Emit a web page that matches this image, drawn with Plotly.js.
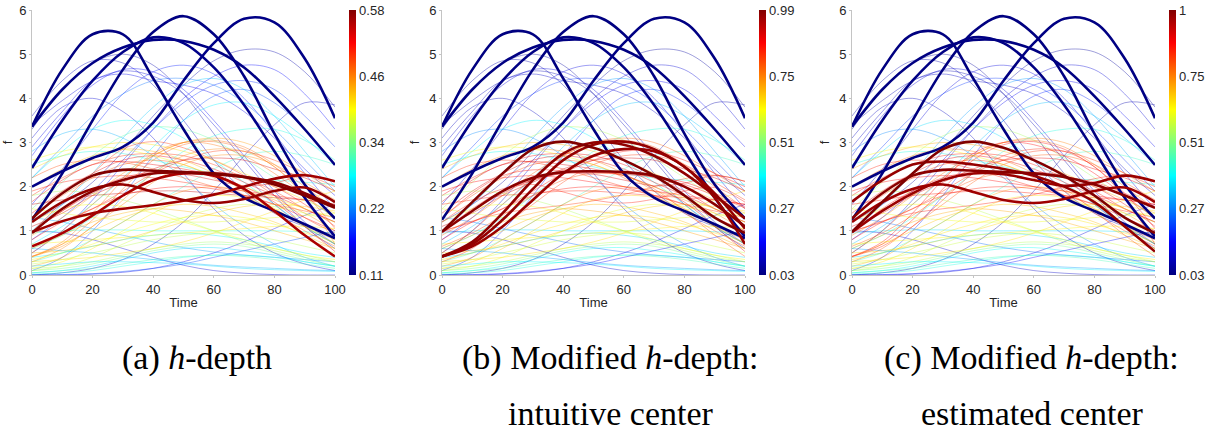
<!DOCTYPE html>
<html>
<head>
<meta charset="utf-8">
<script src="https://cdn.plot.ly/plotly-3.0.1.min.js"></script>
<style>html,body{margin:0;padding:0;background:#fff;}#chart{width:1209px;height:432px;}</style>
</head>
<body>
<div id="chart"></div>
<script>
// ---------------- DATA ----------------
const timeGrid = [0,10,20,30,40,50,60,70,80,90,100];

// thin (background) curves, values at timeGrid
const thinCurves = [
 [3.6,4.4,4.85,4.8,4.3,3.5,2.6,1.9,1.4,1.1,0.9],
 [3.4,3.95,4.4,4.62,4.5,4.1,3.4,2.6,1.8,1.1,0.6],
 [1.2,1.6,2.1,2.8,3.6,4.3,4.85,5.1,5.05,4.6,3.8],
 [1.6,2.4,3.3,4.1,4.6,4.75,4.55,4.0,3.2,2.3,1.5],
 [2.9,3.7,4.4,4.55,4.4,4.3,4.1,3.7,3.1,2.4,1.8],
 [0.8,1.3,1.9,2.6,3.3,3.9,4.3,4.4,4.2,3.6,2.9],
 [0.0,0.05,0.15,0.35,0.7,1.2,1.9,2.7,3.4,3.9,3.85],
 [1.0,0.95,0.8,0.6,0.4,0.22,0.1,0.04,0.01,0,0],
 [0,0,0.02,0.06,0.15,0.3,0.5,0.75,1.05,1.35,1.6],
 [0.1,0.4,1.0,1.8,2.7,3.5,4.05,4.2,3.9,3.3,2.5],
 [3.1,3.8,4.0,3.7,3.1,2.3,1.5,0.9,0.5,0.25,0.1],
 [2.7,3.6,4.3,4.65,4.6,4.2,3.5,2.7,1.9,1.2,0.7],
 [3.3,4.2,4.8,5.0,4.75,4.1,3.2,2.3,1.6,1.1,0.7],
 [0.5,1.0,1.7,2.5,3.3,4.0,4.5,4.75,4.65,4.1,3.3],
 [2.2,2.9,3.6,4.1,4.4,4.45,4.3,3.9,3.3,2.6,1.9],
 [1.0,1.6,2.3,3.1,3.8,4.3,4.45,4.2,3.6,2.8,2.0],
 [0.7,1.1,1.6,2.2,2.9,3.5,3.85,3.9,3.6,3.1,2.5],
 [2.2,2.8,3.3,3.5,3.4,3.1,2.6,2.1,1.6,1.1,0.7],
 [2.8,3.2,3.3,3.1,2.7,2.2,1.6,1.1,0.7,0.4,0.2],
 [0.95,1.0,1.02,1.02,1.0,1.0,1.0,1.0,1.0,0.98,0.95],
 [0.3,0.5,0.8,1.2,1.6,2.0,2.4,2.7,2.8,2.7,2.5],
 [0.05,0.1,0.2,0.35,0.5,0.6,0.62,0.55,0.45,0.3,0.2],
 [0.6,0.9,1.3,1.8,2.3,2.8,3.15,3.3,3.3,3.05,2.6],
 [1.5,2.1,2.7,3.15,3.35,3.3,3.05,2.65,2.2,1.75,1.3],
 [2.5,2.7,2.8,2.75,2.6,2.45,2.3,2.2,2.15,2.1,2.05],
 [0.4,0.5,0.65,0.8,0.9,0.95,0.9,0.8,0.65,0.5,0.4],
 [1.3,1.2,1.05,0.9,0.75,0.62,0.52,0.45,0.4,0.35,0.3],
 [1.8,2.2,2.5,2.7,2.75,2.7,2.5,2.2,1.9,1.5,1.2],
 [0.5,1.0,1.6,2.2,2.7,3.0,3.05,2.9,2.5,2.0,1.5],
 [1.4,1.9,2.3,2.6,2.7,2.6,2.4,2.1,1.8,1.5,1.2],
 [0.3,0.6,1.1,1.6,2.1,2.5,2.7,2.7,2.5,2.1,1.7],
 [2.0,2.4,2.7,2.85,2.8,2.6,2.3,1.9,1.5,1.1,0.8],
 [1.1,1.4,1.8,2.1,2.4,2.6,2.65,2.6,2.4,2.2,1.9],
 [0.2,0.4,0.8,1.2,1.6,1.9,2.0,1.9,1.7,1.4,1.0],
 [0.8,1.2,1.5,1.8,1.95,2.0,1.95,1.8,1.6,1.3,1.0],
 [1.6,1.7,1.8,1.85,1.9,1.9,1.85,1.8,1.75,1.7,1.6],
 [0.15,0.3,0.6,1.0,1.4,1.7,1.8,1.75,1.5,1.1,0.7],
 [0.4,0.7,1.0,1.3,1.5,1.6,1.55,1.4,1.2,0.9,0.6],
 [1.2,1.5,1.6,1.55,1.4,1.2,1.0,0.8,0.6,0.45,0.35],
 [0.1,0.2,0.4,0.7,1.0,1.3,1.5,1.6,1.55,1.4,1.2],
 [2.4,2.7,2.9,3.0,2.95,2.8,2.6,2.3,2.0,1.7,1.4],
 [0.6,0.9,1.2,1.4,1.5,1.45,1.35,1.2,1.0,0.8,0.6],
 [0.25,0.35,0.5,0.65,0.8,0.9,0.95,0.9,0.8,0.65,0.5],
 [1.9,2.1,2.2,2.25,2.2,2.1,2.0,1.9,1.8,1.7,1.6],
 [0.9,1.3,1.8,2.3,2.7,3.0,3.1,3.0,2.7,2.3,1.9],
 [1.3,1.8,2.2,2.5,2.6,2.5,2.2,1.8,1.4,1.0,0.65],
 [0.35,0.5,0.7,0.95,1.15,1.3,1.35,1.3,1.15,0.95,0.75],
 [0.15,0.2,0.3,0.45,0.6,0.7,0.75,0.7,0.6,0.45,0.3],
 [0.7,0.75,0.8,0.85,0.9,0.95,1.0,1.05,1.1,1.1,1.05],
 [2.2,2.5,2.6,2.55,2.4,2.2,2.0,1.8,1.6,1.45,1.3],
 [1.0,1.2,1.5,1.9,2.3,2.6,2.8,2.8,2.6,2.3,2.0],
 [0.5,0.55,0.65,0.8,1.0,1.2,1.4,1.55,1.6,1.55,1.45],
 [1.5,1.4,1.3,1.25,1.2,1.2,1.2,1.25,1.3,1.35,1.4],
 [0.1,0.15,0.25,0.4,0.55,0.65,0.7,0.65,0.5,0.35,0.2],
 [0.05,0.1,0.15,0.25,0.35,0.42,0.45,0.42,0.35,0.25,0.15],
 [0.3,0.35,0.4,0.5,0.6,0.75,0.95,1.2,1.45,1.7,1.9],
 [2.6,2.8,2.9,2.85,2.7,2.5,2.25,2.0,1.75,1.5,1.3],
 [0.02,0.05,0.1,0.2,0.3,0.4,0.45,0.45,0.4,0.3,0.2],
 [0.2,0.25,0.3,0.3,0.28,0.25,0.2,0.15,0.12,0.1,0.08],
 [0.6,0.55,0.5,0.42,0.35,0.28,0.22,0.18,0.15,0.12,0.1],
 [0,0.01,0.03,0.08,0.15,0.25,0.4,0.55,0.7,0.85,1.0],
 [1.8,1.9,1.85,1.7,1.5,1.25,1.0,0.75,0.55,0.4,0.3]
];
const thinDepthA = [0.14,0.15,0.13,0.18,0.16,0.19,0.14,0.15,0.16,0.20,0.15,0.17,0.13,0.17,0.22,
 0.26,0.28,0.29,0.25,0.30,0.31,0.27,0.30,0.33,0.30,0.28,0.24,
 0.50,0.47,0.53,0.46,0.44,0.54,0.45,0.52,0.55,0.41,0.43,0.40,0.38,0.42,0.44,0.37,0.51,0.45,0.48,0.40,0.36,0.41,0.49,0.50,0.43,0.39,0.34,0.32,0.42,0.40,
 0.30,0.27,0.25,0.20,0.36];
const thinDepthB = [0.07,0.08,0.06,0.12,0.10,0.14,0.07,0.10,0.12,0.18,0.09,0.12,0.06,0.11,0.20,
 0.30,0.33,0.38,0.28,0.36,0.45,0.40,0.42,0.55,0.40,0.35,0.25,
 0.88,0.80,0.90,0.82,0.75,0.92,0.74,0.86,0.84,0.68,0.70,0.62,0.60,0.70,0.72,0.58,0.87,0.78,0.80,0.66,0.56,0.64,0.83,0.86,0.68,0.60,0.50,0.46,0.66,0.62,
 0.42,0.38,0.30,0.16,0.55];
const thinDepthC = [0.07,0.08,0.06,0.12,0.10,0.14,0.07,0.10,0.12,0.18,0.09,0.12,0.06,0.11,0.20,
 0.30,0.33,0.36,0.28,0.36,0.45,0.40,0.42,0.55,0.42,0.35,0.25,
 0.86,0.78,0.90,0.80,0.78,0.90,0.72,0.86,0.86,0.66,0.70,0.64,0.58,0.72,0.72,0.58,0.88,0.76,0.82,0.66,0.56,0.64,0.85,0.84,0.68,0.62,0.50,0.46,0.66,0.64,
 0.42,0.38,0.30,0.16,0.57];

// least deep (outlying) curves
const outerCurves = [
 [3.36,4.65,5.45,5.45,4.45,3.3,2.3,1.75,1.45,1.15,0.83],
 [3.36,4.2,4.8,5.15,5.32,5.3,5.1,4.7,4.05,3.3,2.49],
 [1.25,2.3,3.5,4.65,5.5,5.86,5.45,4.5,3.2,2.05,1.28],
 [2.0,2.35,2.65,2.9,3.45,4.4,5.25,5.8,5.72,4.9,3.55],
 [2.42,3.5,4.4,5.05,5.38,5.25,4.7,3.85,2.8,1.75,0.87]
];
const outerDepthA = [0.110,0.112,0.111,0.113,0.114];
const outerDepthB = [0.030,0.032,0.031,0.033,0.034];
const outerDepthC = [0.030,0.032,0.031,0.033,0.034];

// central (deep) curves
const centralCurves = [
 [1.28,1.85,2.25,2.38,2.36,2.33,2.3,2.22,2.05,1.8,1.52],
 [1.2,1.65,1.95,2.05,1.88,1.7,1.63,1.72,1.9,1.98,1.65],
 [0.97,1.22,1.4,1.5,1.58,1.68,1.82,2.0,2.18,2.26,2.12],
 [0.95,1.5,1.9,2.15,2.3,2.32,2.28,2.22,2.1,1.85,1.55],
 [0.65,0.95,1.35,1.8,2.15,2.3,2.25,1.95,1.45,0.9,0.42],
 [0.98,1.65,2.3,2.85,3.02,2.88,2.6,2.25,1.8,1.3,0.95],
 [0.98,1.45,1.9,2.2,2.33,2.35,2.33,2.25,2.0,1.6,1.1],
 [0.42,0.75,1.4,2.15,2.75,3.0,2.95,2.7,2.3,1.8,1.28],
 [0.42,0.7,1.25,1.95,2.6,2.95,3.02,2.85,2.45,1.85,1.05],
 [0.42,0.65,1.1,1.7,2.3,2.7,2.85,2.8,2.45,1.75,0.7],
 [1.66,2.15,2.5,2.57,2.5,2.4,2.25,2.0,1.65,1.1,0.53],
 [0.97,1.45,1.85,2.15,2.3,2.28,2.15,2.02,2.08,2.25,2.12]
];
const centralDepthA = [0.580,0.570,0.565,0.575,0.560,0.50,0.52,0.47,0.48,0.46,0.53,0.54];
const centralDepthB = [0.86,0.85,0.82,0.88,0.80,0.990,0.980,0.975,0.970,0.965,0.90,0.91];
const centralDepthC = [0.990,0.970,0.86,0.88,0.80,1.000,0.90,0.88,0.87,0.85,0.980,0.975];

// colour bar ranges and tick labels
const depthRangeA = [0.11,0.58], depthRangeB = [0.03,0.99], depthRangeC = [0.03,1.0];
const cbTicksA = [0.11,0.2275,0.345,0.4625,0.58], cbTextA = ['0.11','0.22','0.34','0.46','0.58'];
const cbTicksB = [0.03,0.27,0.51,0.75,0.99], cbTextB = ['0.03','0.27','0.51','0.75','0.99'];
const cbTicksC = [0.03,0.2725,0.515,0.7575,1.0], cbTextC = ['0.03','0.27','0.51','0.75','1'];

const captions = [
 ['(a) <i>h</i>-depth', null],
 ['(b) Modified <i>h</i>-depth:', 'intuitive center'],
 ['(c) Modified <i>h</i>-depth:', 'estimated center']
];

// ---------------- DRAWING ----------------
const jetStops = [[0,[0,0,128]],[0.125,[0,0,255]],[0.375,[0,255,255]],[0.625,[255,255,0]],[0.875,[255,0,0]],[1,[128,0,0]]];
const jetScale = jetStops.map(s => [s[0], 'rgb(' + s[1].join(',') + ')']);
function jet(v){
  v = Math.max(0, Math.min(1, v));
  for (let i = 1; i < jetStops.length; i++){
    if (v <= jetStops[i][0]){
      const a = jetStops[i-1], b = jetStops[i];
      const f = (v - a[0]) / (b[0] - a[0]);
      const c = a[1].map((x, k) => Math.round(x + (b[1][k] - x) * f));
      return 'rgb(' + c.join(',') + ')';
    }
  }
  return 'rgb(128,0,0)';
}

const W = 1209, H = 432;
const plotLeft = [32, 442, 852], plotWidth = 303, plotTop = 10, plotBottom = 275;
const cbLeft = [349, 759, 1169];
const capX = [197, 610, 1031];

const panels = [
 {range: depthRangeA, dThin: thinDepthA, dOut: outerDepthA, dCen: centralDepthA, tv: cbTicksA, tt: cbTextA},
 {range: depthRangeB, dThin: thinDepthB, dOut: outerDepthB, dCen: centralDepthB, tv: cbTicksB, tt: cbTextB},
 {range: depthRangeC, dThin: thinDepthC, dOut: outerDepthC, dCen: centralDepthC, tv: cbTicksC, tt: cbTextC}
];

const traces = [];
const layout = {
  width: W, height: H, margin: {l:0, r:0, t:0, b:0},
  paper_bgcolor: '#fff', plot_bgcolor: '#fff', showlegend: false,
  font: {family: 'Liberation Sans, Arial, sans-serif', size: 13, color: '#262626'},
  annotations: []
};
const tickFont = {family: 'Liberation Sans, Arial, sans-serif', size: 13, color: '#262626'};

panels.forEach((p, i) => {
  const sfx = i === 0 ? '' : String(i + 1);
  const xa = 'x' + sfx, ya = 'y' + sfx;
  const norm = d => (d - p.range[0]) / (p.range[1] - p.range[0]);
  const all = [];
  thinCurves.forEach((c, k) => all.push({c, d: p.dThin[k]}));
  outerCurves.forEach((c, k) => all.push({c, d: p.dOut[k]}));
  centralCurves.forEach((c, k) => all.push({c, d: p.dCen[k]}));
  const sorted = all.slice().sort((a, b) => a.d - b.d);
  const low = new Set(sorted.slice(0, 5)), high = new Set(sorted.slice(-5));
  const thin = all.filter(o => !low.has(o) && !high.has(o));
  thin.forEach(o => traces.push({
    type: 'scatter', mode: 'lines', x: timeGrid, y: o.c, xaxis: xa, yaxis: ya,
    line: {color: jet(norm(o.d)), width: 0.7, shape: 'spline', smoothing: 1},
    opacity: 0.55, hoverinfo: 'skip'
  }));
  [...low, ...high].forEach(o => traces.push({
    type: 'scatter', mode: 'lines', x: timeGrid, y: o.c, xaxis: xa, yaxis: ya,
    line: {color: jet(norm(o.d)), width: 2.6, shape: 'spline', smoothing: 1},
    hoverinfo: 'skip'
  }));
  // colour bar carrier
  traces.push({
    type: 'scatter', mode: 'markers', x: [-50, -50], y: [-50, -50], xaxis: xa, yaxis: ya,
    hoverinfo: 'skip',
    marker: {size: 1, color: p.range, cmin: p.range[0], cmax: p.range[1], colorscale: jetScale,
      showscale: true,
      colorbar: {x: cbLeft[i] / W, xanchor: 'left', xpad: 0, y: 1 - (plotTop + plotBottom) / 2 / H,
        yanchor: 'middle', ypad: 0, len: plotBottom - plotTop, lenmode: 'pixels',
        thickness: 7, thicknessmode: 'pixels', outlinewidth: 0, borderwidth: 0,
        tickvals: p.tv, ticktext: p.tt, ticks: '', tickfont: tickFont}}
  });

  layout['xaxis' + sfx] = {
    domain: [plotLeft[i] / W, (plotLeft[i] + plotWidth) / W], anchor: ya,
    range: [0, 100], tickvals: [0,20,40,60,80,100], showgrid: false, zeroline: false,
    showline: true, linecolor: '#c4c4c4', linewidth: 1, ticks: 'outside', ticklen: 2, tickcolor: '#c4c4c4',
    tickfont: tickFont, title: {text: 'Time', font: tickFont, standoff: 2}
  };
  layout['yaxis' + sfx] = {
    domain: [1 - plotBottom / H, 1 - plotTop / H], anchor: xa,
    range: [0, 6], tickvals: [0,1,2,3,4,5,6], showgrid: false, zeroline: false,
    showline: true, linecolor: '#c4c4c4', linewidth: 1, ticks: 'outside', ticklen: 2, tickcolor: '#c4c4c4',
    tickfont: tickFont, title: {text: 'f', font: tickFont, standoff: 6}
  };
  const capFont = {family: 'Liberation Serif, Times New Roman, serif', size: 34, color: '#000'};
  layout.annotations.push({xref: 'paper', yref: 'paper', x: capX[i] / W, y: 1 - 358 / H,
    xanchor: 'center', yanchor: 'middle', showarrow: false, text: captions[i][0], font: capFont});
  if (captions[i][1]) layout.annotations.push({xref: 'paper', yref: 'paper', x: (capX[i] + 1) / W, y: 1 - 413 / H,
    xanchor: 'center', yanchor: 'middle', showarrow: false, text: captions[i][1], font: capFont});
});

Plotly.newPlot('chart', traces, layout, {staticPlot: true, displayModeBar: false});
</script>
</body>
</html>
